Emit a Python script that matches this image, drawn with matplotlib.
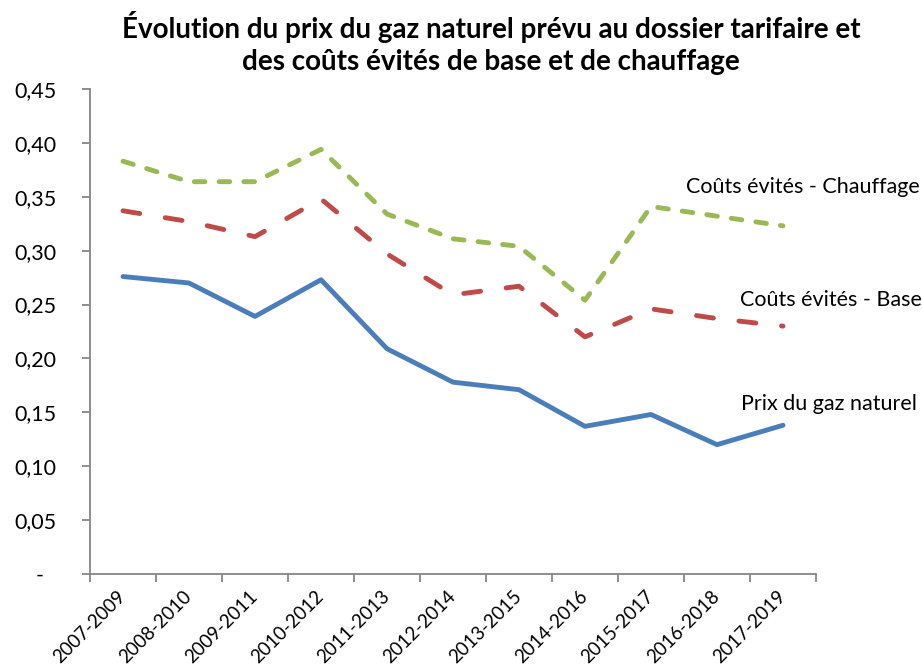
import matplotlib.pyplot as plt
import numpy as np

# Données
periodes = ['2007-2009', '2008-2010', '2009-2011', '2010-2012', '2011-2013', '2012-2014',
            '2013-2015', '2014-2016', '2015-2017', '2016-2018', '2017-2019']
prix_gaz = [0.276, 0.270, 0.239, 0.273, 0.209, 0.178, 0.171, 0.137, 0.148, 0.120, 0.138]
couts_base = [0.337, 0.327, 0.313, 0.348, 0.297, 0.259, 0.267, 0.220, 0.246, 0.237, 0.230]
couts_chauffage = [0.383, 0.364, 0.364, 0.394, 0.334, 0.311, 0.304, 0.254, 0.341, 0.332, 0.323]
yticks = [0, 0.05, 0.10, 0.15, 0.20, 0.25, 0.30, 0.35, 0.40, 0.45]

plt.rcParams['font.family'] = ['Lato', 'DejaVu Sans']

fig = plt.figure(figsize=(9.22, 6.66), dpi=100)
ax = fig.add_axes([90 / 922, 1 - 574 / 666, (816 - 90) / 922, (574 - 89) / 666])

x = np.arange(len(periodes))
ax.plot(x, prix_gaz, color='#4A7EBB', lw=3.5, solid_capstyle='round', solid_joinstyle='round')
ax.plot(x, couts_base, color='#BE4B48', lw=3.5, dashes=(3.5, 5.3),
        dash_capstyle='round', dash_joinstyle='round')
ax.plot(x, couts_chauffage, color='#98B954', lw=3.5, dashes=(2.2, 2.9),
        dash_capstyle='round', dash_joinstyle='round')

ax.set_xlim(-0.5, len(periodes) - 0.5)
ax.set_ylim(0, 0.45)
ax.set_yticks(yticks)
# format comptable : le zéro s'affiche "-" un peu décalé
ax.set_yticklabels(['-\u2007' if v == 0 else f'{v:.2f}'.replace('.', ',') for v in yticks], fontsize=15.5)

ax.set_xticks(x)
ax.set_xticklabels(periodes, rotation=45, ha='right', va='center', rotation_mode='anchor', fontsize=13.5)
ax.set_xticks(np.arange(-0.5, len(periodes)), minor=True)
ax.tick_params(axis='x', which='major', length=0, pad=14)
ax.tick_params(axis='x', which='minor', length=6, width=1.3, color='#868686')
ax.tick_params(axis='y', length=6, width=1.3, color='#868686', pad=18)

for s in ['top', 'right']:
    ax.spines[s].set_visible(False)
for s in ['left', 'bottom']:
    ax.spines[s].set_color('#868686')
    ax.spines[s].set_linewidth(1.3)

fig.text(491 / 922, 1 - 43 / 666, 'Évolution du prix du gaz naturel prévu au dossier tarifaire et\n'
         'des coûts évités de base et de chauffage', ha='center', va='center',
         fontsize=20, fontweight='bold', linespacing=1.28)

fig.text(686 / 922, 1 - 187 / 666, 'Coûts évités - Chauffage', fontsize=15.5, va='center')
fig.text(740 / 922, 1 - 300 / 666, 'Coûts évités - Base', fontsize=15.5, va='center')
fig.text(741 / 922, 1 - 404 / 666, 'Prix du gaz naturel', fontsize=15.5, va='center')

plt.savefig('out.png', dpi=100)
